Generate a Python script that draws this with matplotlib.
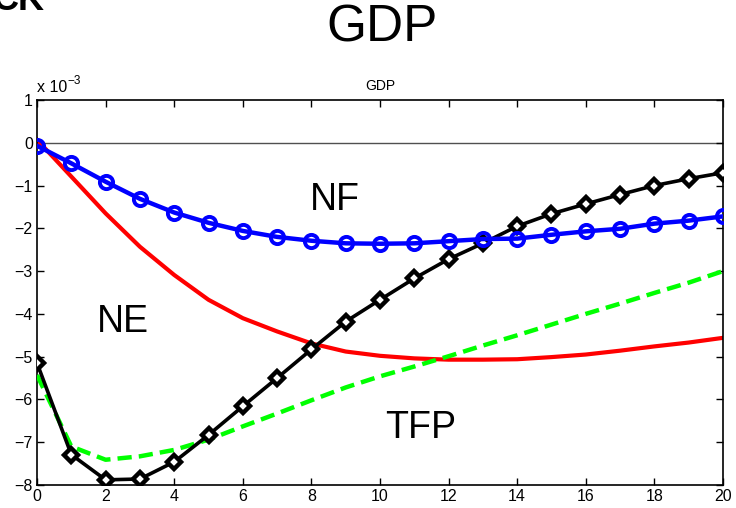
import numpy as np
import matplotlib
matplotlib.use("Agg")
import matplotlib.pyplot as plt

plt.rcParams['font.family'] = ['Liberation Sans', 'DejaVu Sans']

# impulse responses of GDP, in units of 1e-3
quarters = np.arange(0, 21)
nf = [-0.07, -0.48, -0.91, -1.31, -1.63, -1.87, -2.06, -2.20, -2.29, -2.35, -2.36,
      -2.35, -2.30, -2.25, -2.24, -2.15, -2.07, -2.01, -1.89, -1.82, -1.72]
ne = [0.07, -0.79, -1.65, -2.43, -3.09, -3.67, -4.10, -4.41, -4.69, -4.88, -4.98,
      -5.04, -5.07, -5.07, -5.06, -5.01, -4.95, -4.86, -4.76, -4.67, -4.56]
tfp = [-5.43, -7.10, -7.41, -7.33, -7.18, -6.94, -6.63, -6.33, -6.02, -5.72, -5.46,
       -5.23, -4.99, -4.74, -4.50, -4.25, -4.00, -3.76, -3.51, -3.27, -3.00]
all_shocks = [-5.15, -7.29, -7.88, -7.86, -7.46, -6.83, -6.16, -5.50, -4.83, -4.18, -3.67,
              -3.17, -2.72, -2.35, -1.95, -1.66, -1.43, -1.21, -1.00, -0.84, -0.70]

fig = plt.figure(figsize=(7.36, 5.08), dpi=100)
ax = fig.add_axes([0.0503, 0.0453, 0.932, 0.7578])

ax.axhline(0, color='#505050', lw=1.0, zorder=1)
ax.plot(quarters, ne, color='red', lw=3.0, zorder=2)
ax.plot(quarters, tfp, color='#00ff00', lw=3.2, dashes=(3.2, 1.6), zorder=3)
ax.plot(quarters, all_shocks, color='black', lw=2.6, marker='D', ms=7.5,
        mfc='white', mec='black', mew=3.2, zorder=4)
ax.plot(quarters, nf, color='blue', lw=3.2, marker='o', ms=9.5,
        mfc='none', mec='blue', mew=2.8, zorder=5)

ax.set_xlim(0, 20)
ax.set_ylim(-8, 1)
ax.set_xticks(np.arange(0, 21, 2))
ax.set_yticks(np.arange(-8, 2, 1))
ax.tick_params(direction='in', length=5, width=1, top=True, right=True,
               labelsize=11.5, pad=3)
for s in ax.spines.values():
    s.set_linewidth(1.2)

ax.set_title('GDP', fontsize=10, pad=7)

# curve labels
ax.text(8.67, -1.34, 'NF', fontsize=27, ha='center', va='center')
ax.text(2.5, -4.19, 'NE', fontsize=27, ha='center', va='center')
ax.text(11.2, -6.66, 'TFP', fontsize=27, ha='center', va='center')

# MATLAB style exponent above the y axis
fig.text(37 / 736, 1 - 92 / 508, 'x 10', fontsize=11.5, va='baseline', ha='left')
fig.text(67 / 736, 1 - 84 / 508, '\u22123', fontsize=8.5, va='baseline', ha='left')

fig.text(382 / 736, 1 - 28 / 508, 'GDP', fontsize=37, ha='center', va='center')
fig.text(-0.01, 1 - 10 / 508, 'CK', fontsize=26, fontweight='bold',
         va='baseline', ha='left')

fig.savefig('out.png', dpi=100)
